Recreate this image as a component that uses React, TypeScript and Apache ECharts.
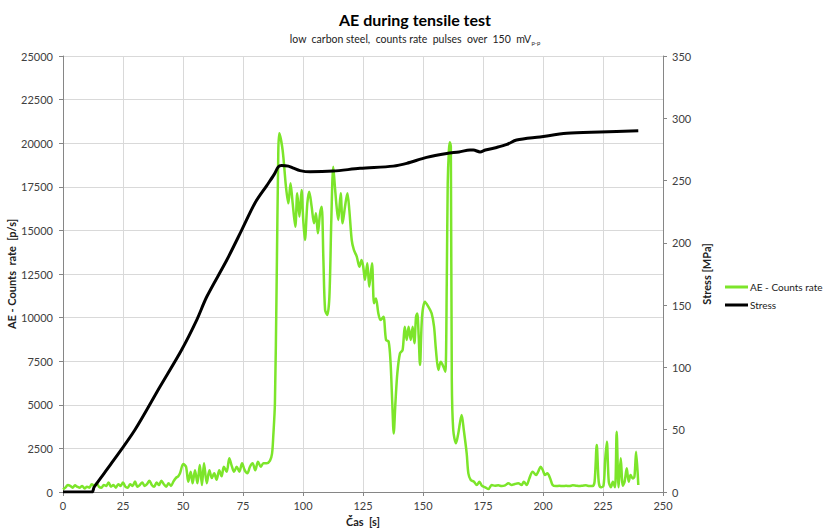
import React, { useEffect, useRef } from "react";
import * as echarts from "echarts";

// AE counts rate [p/s] over time [s]
const aeTime = [
  0, 1, 2, 3, 4, 5, 6, 7, 8, 9, 10, 11, 12, 13, 14, 15, 16, 17, 18, 19, 20, 21, 22, 23, 24,
  25, 26, 27, 28, 29, 30, 31, 32, 33, 34, 35, 36, 37, 38, 39, 40, 41, 42, 43, 44, 45, 46, 47, 48,
  48.75, 50.1, 51.25, 52.2, 53.2, 54, 55, 56, 57, 57.9, 58.75, 59.9, 61, 62, 63, 64, 65.1, 66.1,
  67, 68.2, 69.3, 70.4, 71.25, 72.4, 73.5, 74.6, 75.7, 76.8, 77.9, 79, 80.1, 81.25, 82.4, 83.5,
  84.9, 86.25, 87.1, 87.6, 88.3, 89, 89.7, 90.1, 91.5, 92.9, 93.9, 94.8, 95.7, 96.8, 97.6, 98.5,
  99.4, 100.1, 100.8, 101.8, 102.6, 103.6, 104.6, 105.4, 106.2, 107.1, 107.8, 108.5, 109.2, 110.1,
  111, 111.8, 112.6, 113.3, 114, 114.7, 115.7, 116.5, 117.5, 118.5, 119.3, 120.3, 121.2, 122.4,
  123.5, 124.4, 125.1, 125.8, 126.8, 127.6, 128.75, 129.6, 130.4, 131.4, 132.3, 133.5, 134.6,
  135.7, 136.5, 137.2, 137.8, 138.5, 139.3, 140.4, 141.5, 142.4, 143.2, 144, 144.9, 145.7, 146.4,
  147.1, 147.6, 148.2, 148.75, 149.6, 150.8, 152.2, 153.6, 154.6, 155.4, 156.4, 157.4, 158.5,
  159.3, 159.9, 160.3, 160.8, 161.2, 161.6, 162, 162.6, 163.75, 164.7, 166.1, 167, 168.2, 168.9,
  169.9, 171.25, 172.4, 173.5, 174.5, 175.9, 177.3, 178.6, 180, 181.4, 182.8, 184.2, 185.6, 187,
  188.3, 189.7, 191.1, 192, 193.2, 194.3, 195.7, 197.1, 198, 199, 199.9, 200.8, 201.8, 203, 204,
  205.4, 206.8, 208.2, 209.6, 211, 212.4, 213.75, 215.1, 216.5, 217.9, 219.3, 220.7, 221.5, 222.4,
  223.2, 224, 225.2, 225.9, 226.6, 227.4, 228.3, 229.1, 230, 230.7, 231.5, 232.4, 233.25, 234,
  234.9, 235.7, 236.5, 237.4, 238.1, 238.8, 239.7,
];
const aeRate = [
  150, 250, 400, 350, 250, 380, 300, 250, 350, 200, 300, 250, 450, 350, 500, 300, 250, 400, 350,
  550, 300, 400, 250, 450, 350, 550, 300, 250, 450, 350, 600, 300, 400, 550, 350, 450, 650, 400,
  300, 550, 400, 650, 450, 300, 500, 350, 600, 800, 900,
  1070, 1600, 1450, 590, 1160, 500, 1250, 500, 1550, 400, 1650, 500, 1250, 800, 1070, 700, 1250,
  900, 1450, 1160, 1930, 1450, 1160, 1450, 1160, 1650, 1250, 1070, 1450, 1650, 1250, 1740, 1450,
  1650, 1650, 1800, 2200, 3170, 5085, 11770, 19420, 20570, 19610, 17500, 16550, 17700, 16550,
  15210, 17130, 15790, 17320, 15600, 14450, 16550, 17220, 16360, 15410, 15980, 14830, 15980, 16360,
  13300, 10440, 10150, 11200, 15600, 18650, 17500, 16360, 15600, 17130, 15410, 16360, 17130, 16170,
  14450, 13880, 13500, 12920, 13300, 12920, 12160, 13110, 11770, 13110, 10820, 11100, 10240, 9860,
  10050, 8720, 8620, 7380, 5085, 3360, 5085, 6800, 7950, 8140, 9480, 8720, 9480, 8720, 9480, 8530,
  10050, 10240, 8910, 7280, 10050, 10910, 10630, 10240, 9480, 8140, 7000, 7470, 7190, 6900, 11970,
  17700, 19600, 20050, 19800, 6420, 3555, 2790, 3360, 4415, 3555, 2220, 1070, 690, 590, 400, 590,
  360, 270, 170, 400, 360, 380, 340, 380, 500, 400, 460, 500, 400, 590, 400, 780, 1165, 975, 1165,
  1450, 1260, 975, 1070, 780, 400, 340, 360, 340, 360, 340, 380, 360, 340, 360, 380, 340, 340, 590,
  2695, 590, 270, 360, 1835, 2885, 590, 270, 590, 270, 3460, 270, 1930, 360, 590, 1355, 590, 975,
  780, 880, 2310, 400,
];

// Stress [MPa] over time [s]
const stressTime = [
  0, 12, 13, 20, 30, 40.4, 49.4, 55.7, 59.9, 68.2, 74.4, 80, 84.9, 88, 89.7, 91, 93.9, 96, 98.75,
  103, 112.6, 123.75, 137.6, 143.2, 151.5, 159.9, 165, 169.6, 171, 173.75, 176, 180.7, 185, 189,
  198.75, 209.9, 223.75, 239.7,
];
const stressValue = [
  0, 0, 4, 22.5, 50, 84.5, 114, 138, 156.7, 186, 210, 232, 246, 255, 261, 262, 261.6, 260, 258, 257,
  257.6, 259.8, 261.6, 263.8, 268.6, 271.8, 273, 274.5, 274.5, 273, 274.5, 276.6, 279, 282.5, 285,
  287.9, 289, 290,
];

const timeTicks = { min: 0, max: 250, interval: 25 };
const rateTicks = { min: 0, max: 25000, interval: 2500 };
const stressTicks = { min: 0, max: 350, interval: 50 };

const FONT = "Lato, 'Noto Sans', sans-serif";
const AXIS_COLOR = "#868686";
const GRID_COLOR = "#d9d9d9";
const LABEL_COLOR = "#404040";

const plain = (v: number) => String(v);

export default function App() {
  const ref = useRef<HTMLDivElement>(null);

  useEffect(() => {
    document.body.style.margin = "0";
    if (!ref.current) return;
    const chart = echarts.init(ref.current, undefined, { renderer: "svg" });

    const aeData = aeTime.map((t, i) => [t, aeRate[i]]);
    const stressData = stressTime.map((t, i) => [t, stressValue[i]]);

    chart.setOption({
      animation: false,
      backgroundColor: "#ffffff",
      textStyle: { fontFamily: FONT },
      title: {
        text: "AE during tensile test",
        subtext: "low  carbon steel,  counts rate  pulses  over  150  mV{sub|p-p}",
        left: "center",
        top: 6,
        itemGap: 6,
        textStyle: { fontFamily: FONT, fontSize: 16, fontWeight: "bold", color: "#000" },
        subtextStyle: {
          fontFamily: FONT,
          fontSize: 10.5,
          color: "#222",
          rich: {
            sub: { fontFamily: FONT, fontSize: 6, color: "#222", padding: [6, 0, 0, 0] },
          },
        },
      },
      legend: {
        orient: "vertical",
        left: 720,
        top: 277,
        icon: "rect",
        itemWidth: 23,
        itemHeight: 3,
        itemGap: 8,
        textStyle: { fontFamily: FONT, fontSize: 10, color: "#222", padding: [0, 0, 0, -3] },
        data: ["AE - Counts rate", "Stress"],
      },
      grid: {
        left: 63,
        right: 167,
        top: 56,
        bottom: 38,
        containLabel: false,
        outerBoundsMode: "none",
      },
      xAxis: {
        type: "value",
        ...timeTicks,
        name: "Čas  [s]",
        nameLocation: "middle",
        nameGap: 24,
        nameMoveOverlap: false,
        nameTextStyle: { fontFamily: FONT, fontSize: 11, fontWeight: "bold", color: "#222" },
        axisLine: { show: true, lineStyle: { color: AXIS_COLOR, width: 1 } },
        axisTick: { show: true, inside: false, length: 4, lineStyle: { color: AXIS_COLOR } },
        axisLabel: { fontFamily: FONT, fontSize: 11, color: LABEL_COLOR, margin: 8, formatter: plain },
        splitLine: { show: true, lineStyle: { color: GRID_COLOR, width: 1 } },
      },
      yAxis: [
        {
          type: "value",
          position: "left",
          ...rateTicks,
          name: "AE - Counts  rate  [p/s]",
          nameLocation: "middle",
          nameGap: 46,
          nameMoveOverlap: false,
          nameRotate: 90,
          nameTextStyle: { fontFamily: FONT, fontSize: 11, fontWeight: "bold", color: "#222" },
          axisLine: { show: true, lineStyle: { color: AXIS_COLOR, width: 1 } },
          axisTick: { show: true, inside: false, length: 4, lineStyle: { color: AXIS_COLOR } },
          axisLabel: { fontFamily: FONT, fontSize: 11, color: LABEL_COLOR, margin: 10, formatter: plain },
          splitLine: { show: true, lineStyle: { color: GRID_COLOR, width: 1 } },
        },
        {
          type: "value",
          position: "right",
          ...stressTicks,
          name: "Stress [MPa]",
          nameLocation: "middle",
          nameGap: 38,
          nameMoveOverlap: false,
          nameRotate: 90,
          nameTextStyle: { fontFamily: FONT, fontSize: 11, fontWeight: "bold", color: "#222" },
          axisLine: { show: true, lineStyle: { color: AXIS_COLOR, width: 1 } },
          axisTick: { show: true, inside: false, length: 4, lineStyle: { color: AXIS_COLOR } },
          axisLabel: { fontFamily: FONT, fontSize: 11, color: LABEL_COLOR, margin: 9, formatter: plain },
          splitLine: { show: false },
        },
      ],
      series: [
        {
          name: "AE - Counts rate",
          type: "line",
          xAxisIndex: 0,
          yAxisIndex: 0,
          data: aeData,
          symbol: "none",
          smooth: 0.3,
          color: "#7ce52a",
          lineStyle: { color: "#7ce52a", width: 2.5 },
          z: 2,
        },
        {
          name: "Stress",
          type: "line",
          xAxisIndex: 0,
          yAxisIndex: 1,
          data: stressData,
          symbol: "none",
          smooth: 0.3,
          color: "#000000",
          lineStyle: { color: "#000000", width: 3 },
          z: 3,
        },
      ],
    });

    return () => chart.dispose();
  }, []);

  return <div ref={ref} style={{ width: 830, height: 530 }} />;
}
